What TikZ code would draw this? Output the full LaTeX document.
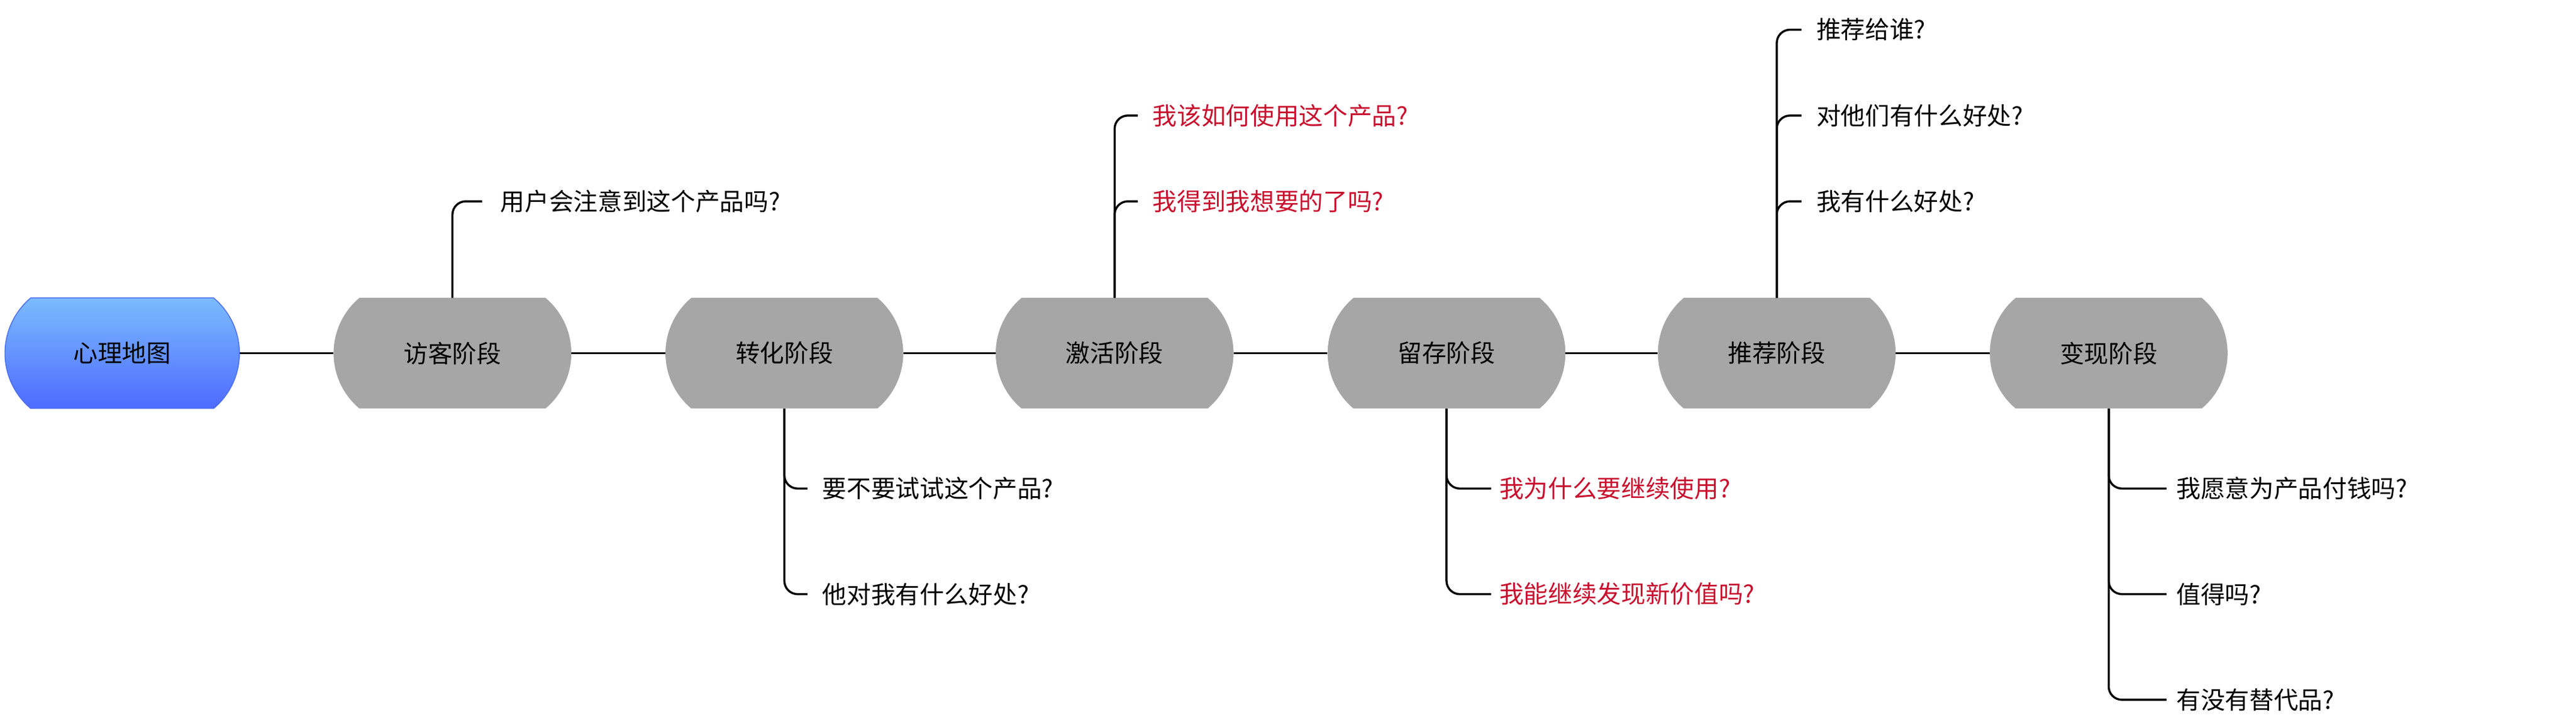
\documentclass[tikz,border=0pt]{standalone}
\usepackage{fontspec}
\setmainfont{Noto Sans CJK SC}
\usetikzlibrary{shapes.misc}
\definecolor{stagegray}{HTML}{A6A6A6}
\definecolor{qred}{HTML}{C8102E}
\definecolor{rtop}{HTML}{7BBBFF}
\definecolor{rbot}{HTML}{4E6BFF}
\definecolor{rborder}{HTML}{4A6CF0}
\begin{document}
\begin{tikzpicture}[x=0.1cm,y=-0.1cm,
  stage/.style={rounded rectangle, rounded rectangle arc length=100, minimum width=14.4cm, minimum height=6.7cm, fill=stagegray, font=\fontsize{42}{50}\selectfont, inner sep=0pt},
  rootbox/.style={stage, fill=none, top color=rtop, bottom color=rbot, draw=rborder, line width=1.5pt, minimum width=14.2cm},
  q/.style={anchor=west, inner sep=0pt, font=\fontsize{42}{50}\selectfont},
  qr/.style={q, text=qred},
  link/.style={line width=3.6pt, rounded corners=0.8cm}]
\useasboundingbox (0,0) rectangle (1560,439);
\node[rootbox] (root) at (74,214) {心理地图};
\node[stage] (s1) at (274,214) {访客阶段};
\node[stage] (s2) at (475,214) {转化阶段};
\node[stage] (s3) at (675,214) {激活阶段};
\node[stage] (s4) at (876,214) {留存阶段};
\node[stage] (s5) at (1076,214) {推荐阶段};
\node[stage] (s6) at (1277,214) {变现阶段};
\draw[line width=3.6pt] (root) -- (s1) (s1) -- (s2) (s2) -- (s3) (s3) -- (s4) (s4) -- (s5) (s5) -- (s6);
% branches
\node[q] (a1) at (303,122) {用户会注意到这个产品吗?};
\node[q] (b1) at (498,296) {要不要试试这个产品?};
\node[q] (b2) at (498,360) {他对我有什么好处?};
\node[qr] (c1) at (698,70) {我该如何使用这个产品?};
\node[qr] (c2) at (698,122) {我得到我想要的了吗?};
\node[qr] (d1) at (908,296) {我为什么要继续使用?};
\node[qr] (d2) at (908,360) {我能继续发现新价值吗?};
\node[q] (e1) at (1100,18) {推荐给谁?};
\node[q] (e2) at (1100,70) {对他们有什么好处?};
\node[q] (e3) at (1100,122) {我有什么好处?};
\node[q] (f1) at (1318,296) {我愿意为产品付钱吗?};
\node[q] (f2) at (1318,360) {值得吗?};
\node[q] (f3) at (1318,424) {有没有替代品?};
\coordinate (ca1) at (292,122);
\coordinate (cb1) at (489,296); \coordinate (cb2) at (489,360);
\coordinate (cc1) at (689,70); \coordinate (cc2) at (689,122);
\coordinate (cd1) at (903,296); \coordinate (cd2) at (903,360);
\coordinate (ce1) at (1091,18); \coordinate (ce2) at (1091,70); \coordinate (ce3) at (1091,122);
\coordinate (cf1) at (1312,296); \coordinate (cf2) at (1312,360); \coordinate (cf3) at (1312,424);
\draw[link] (s1.north) |- (ca1);
\draw[link] (s2.south) |- (cb1); \draw[link] (s2.south) |- (cb2);
\draw[link] (s3.north) |- (cc1); \draw[link] (s3.north) |- (cc2);
\draw[link] (s4.south) |- (cd1); \draw[link] (s4.south) |- (cd2);
\draw[link] (s5.north) |- (ce1); \draw[link] (s5.north) |- (ce2); \draw[link] (s5.north) |- (ce3);
\draw[link] (s6.south) |- (cf1); \draw[link] (s6.south) |- (cf2); \draw[link] (s6.south) |- (cf3);
\end{tikzpicture}
\end{document}
